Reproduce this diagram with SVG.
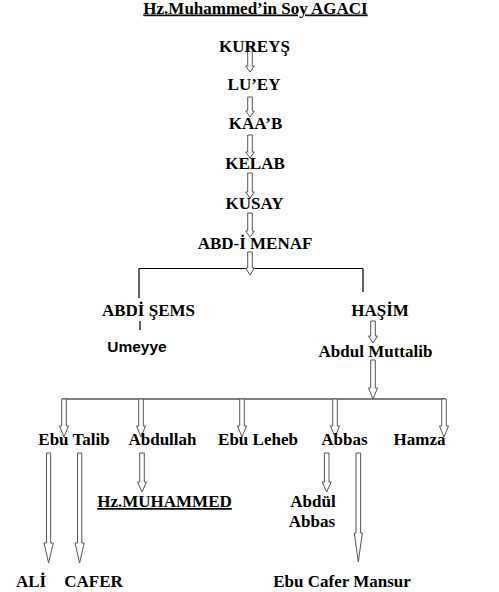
<svg xmlns="http://www.w3.org/2000/svg" width="499" height="592" viewBox="0 0 499 592">
<style>
.t{font-family:'Liberation Serif','Times New Roman',serif;font-weight:bold;font-size:17px;fill:#000;text-anchor:middle}
.s{font-family:'Liberation Sans',Arial,sans-serif;font-weight:bold;font-size:15.5px;fill:#000;text-anchor:middle}
.ar{fill:#fff;stroke:#555;stroke-width:1}
.ln{fill:none;stroke:#000;stroke-width:1.2}
</style>
<rect width="499" height="592" fill="#fff"/>
<g id="title"><text class="t" x="255.5" y="13.5" text-decoration="underline">Hz.Muhammed’in Soy AGACI</text></g>
<g id="connectors">
<path class="ln" d="M139 268.5H363M139 268.5V298M363 268.5V292M140 321V330M62 399H445"/>
<path class="ar" d="M247.7 48H252.3V66H254.3L250 72L245.7 66H247.7Z"/>
<path class="ar" d="M247.7 97H252.3V111H254.3L250 117L245.7 111H247.7Z"/>
<path class="ar" d="M247.7 135H252.3V152H254.3L250 158L245.7 152H247.7Z"/>
<path class="ar" d="M247.7 173H252.3V192H254.3L250 198L245.7 192H247.7Z"/>
<path class="ar" d="M247.7 213H252.3V231H254.3L250 237L245.7 231H247.7Z"/>
<path class="ar" d="M247.7 252H252.3V268H254.3L250 275L245.7 268H247.7Z"/>
<path class="ar" d="M370.7 321H375.3V336H377.5L373 343L368.5 336H370.7Z"/>
<path class="ar" d="M370.7 360H375.3V388H377.5L373 399L368.5 388H370.7Z"/>
<path class="ar" d="M61.7 399H66.3V426H68.5L64 437L59.5 426H61.7Z"/>
<path class="ar" d="M138.7 399H143.3V426H145.5L141 437L136.5 426H138.7Z"/>
<path class="ar" d="M239.7 399H244.3V426H246.5L242 437L237.5 426H239.7Z"/>
<path class="ar" d="M332.7 399H337.3V426H339.5L335 437L330.5 426H332.7Z"/>
<path class="ar" d="M441.7 399H446.3V426H448.5L444 437L439.5 426H441.7Z"/>
<path class="ar" d="M46.5 453H50.7V543H53.3L48.6 563L44 543H46.5Z"/>
<path class="ar" d="M77.5 453H81.8V543H84.2L79.6 563L75 543H77.5Z"/>
<path class="ar" d="M139.7 453H144.3V482H146.5L142 492L137.5 482H139.7Z"/>
<path class="ar" d="M324.4 453H329V482H331.2L326.7 492L322.2 482H324.4Z"/>
<path class="ar" d="M356 453H360.6V533H362.3L358.3 562L354.3 533H356Z"/>
</g>
<g id="n-kureys"><text class="t" x="254.5" y="52">KUREYŞ</text></g>
<g id="n-luey"><text class="t" x="254" y="90">LU’EY</text></g>
<g id="n-kaab"><text class="t" x="255.5" y="129">KAA’B</text></g>
<g id="n-kelab"><text class="t" x="255" y="169">KELAB</text></g>
<g id="n-kusay"><text class="t" x="254.5" y="209">KUSAY</text></g>
<g id="n-abdimenaf"><text class="t" x="255" y="249">ABD-İ MENAF</text></g>
<g id="n-abdisems"><text class="t" x="148.5" y="316">ABDİ ŞEMS</text></g>
<g id="n-hasim"><text class="t" x="380" y="316">HAŞİM</text></g>
<g id="n-umeyye"><text class="s" x="137" y="352">Umeyye</text></g>
<g id="n-abdulmuttalib"><text class="t" x="375.5" y="357">Abdul Muttalib</text></g>
<g id="n-ebutalib"><text class="t" x="74" y="445">Ebu Talib</text></g>
<g id="n-abdullah"><text class="t" x="162.5" y="445">Abdullah</text></g>
<g id="n-ebuleheb"><text class="t" x="258" y="445">Ebu Leheb</text></g>
<g id="n-abbas"><text class="t" x="344.5" y="445">Abbas</text></g>
<g id="n-hamza"><text class="t" x="419.5" y="445">Hamza</text></g>
<g id="n-muhammed"><text class="t" x="164.5" y="507" text-decoration="underline">Hz.MUHAMMED</text></g>
<g id="n-abdulabbas"><text class="t" x="313" y="507">Abdül</text><text class="t" x="312" y="527">Abbas</text></g>
<g id="n-ali"><text class="t" x="31" y="587">ALİ</text></g>
<g id="n-cafer"><text class="t" x="93.5" y="587">CAFER</text></g>
<g id="n-mansur"><text class="t" x="342" y="587">Ebu Cafer Mansur</text></g>
</svg>
